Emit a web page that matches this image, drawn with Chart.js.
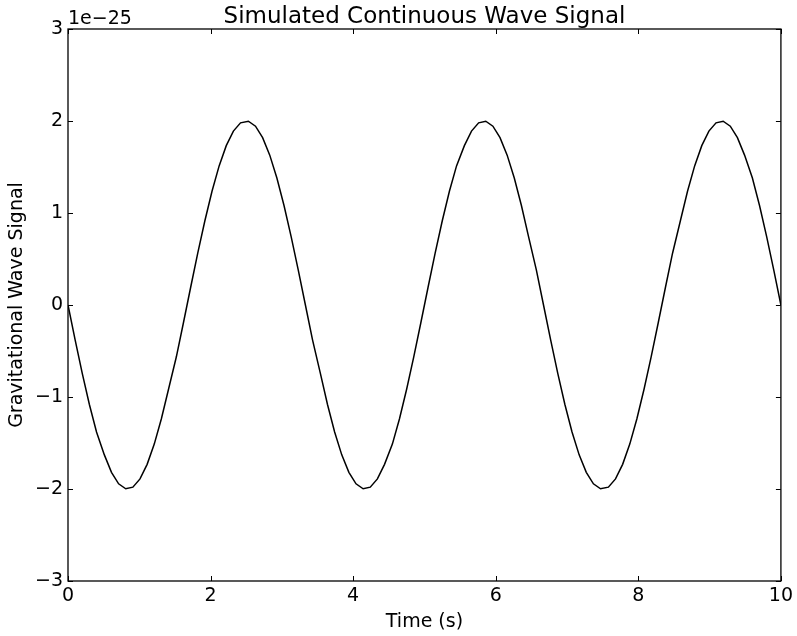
<!DOCTYPE html>
<html>
<head>
<meta charset="utf-8">
<script src="https://cdn.jsdelivr.net/npm/chart.js@4"></script>
<style>
  body { margin: 0; background: #fff; }
  #wrap { width: 797px; height: 636px; }
</style>
</head>
<body>
<div id="wrap"><canvas id="chartContainer" width="797" height="636"></canvas></div>
<script>
// time samples (s)
var times = [
  0.00, 0.10, 0.20, 0.30, 0.40, 0.51, 0.61, 0.71, 0.81, 0.91,
  1.01, 1.11, 1.21, 1.31, 1.41, 1.52, 1.62, 1.72, 1.82, 1.92,
  2.02, 2.12, 2.22, 2.32, 2.42, 2.53, 2.63, 2.73, 2.83, 2.93,
  3.03, 3.13, 3.23, 3.33, 3.43, 3.54, 3.64, 3.74, 3.84, 3.94,
  4.04, 4.14, 4.24, 4.34, 4.44, 4.55, 4.65, 4.75, 4.85, 4.95,
  5.05, 5.15, 5.25, 5.35, 5.45, 5.56, 5.66, 5.76, 5.86, 5.96,
  6.06, 6.16, 6.26, 6.36, 6.46, 6.57, 6.67, 6.77, 6.87, 6.97,
  7.07, 7.17, 7.27, 7.37, 7.47, 7.58, 7.68, 7.78, 7.88, 7.98,
  8.08, 8.18, 8.28, 8.38, 8.48, 8.59, 8.69, 8.79, 8.89, 8.99,
  9.09, 9.19, 9.29, 9.39, 9.49, 9.60, 9.70, 9.80, 9.90, 10.00
];
// signal, in units of 1e-25
var signal = [
  0.000, -0.379, -0.743, -1.081, -1.380, -1.629, -1.819, -1.944, -1.998, -1.980,
  -1.890, -1.732, -1.512, -1.236, -0.916, -0.563, -0.190, 0.190, 0.563, 0.916,
  1.236, 1.512, 1.732, 1.890, 1.980, 1.998, 1.944, 1.819, 1.629, 1.380,
  1.081, 0.743, 0.379, 0.000, -0.379, -0.743, -1.081, -1.380, -1.629, -1.819,
  -1.944, -1.998, -1.980, -1.890, -1.732, -1.512, -1.236, -0.916, -0.563, -0.190,
  0.190, 0.563, 0.916, 1.236, 1.512, 1.732, 1.890, 1.980, 1.998, 1.944,
  1.819, 1.629, 1.380, 1.081, 0.743, 0.379, 0.000, -0.379, -0.743, -1.081,
  -1.380, -1.629, -1.819, -1.944, -1.998, -1.980, -1.890, -1.732, -1.512, -1.236,
  -0.916, -0.563, -0.190, 0.190, 0.563, 0.916, 1.236, 1.512, 1.732, 1.890,
  1.980, 1.998, 1.944, 1.819, 1.629, 1.380, 1.081, 0.743, 0.379, 0.000
];
var xTicks = [0, 2, 4, 6, 8, 10];
var yTicks = [-3, -2, -1, 0, 1, 2, 3];
var titleText = 'Simulated Continuous Wave Signal';
var offsetText = '1e\u221225';

var font = 'DejaVu Sans';

var points = times.map(function (t, i) { return { x: t, y: signal[i] }; });

// matplotlib-style frame: inward ticks on all four sides, title over the axes, offset label
var framePlugin = {
  id: 'frame',
  afterDraw: function (chart) {
    var ctx = chart.ctx, a = chart.chartArea;
    var xs = chart.scales.x, ys = chart.scales.y;
    var len = 5;
    ctx.save();
    ctx.strokeStyle = '#000';
    ctx.lineWidth = 1;
    ctx.beginPath();
    xTicks.forEach(function (v) {
      var px = Math.round(xs.getPixelForValue(v)) + 0.5;
      ctx.moveTo(px, a.bottom); ctx.lineTo(px, a.bottom - len);
      ctx.moveTo(px, a.top); ctx.lineTo(px, a.top + len);
    });
    yTicks.forEach(function (v) {
      var py = Math.round(ys.getPixelForValue(v)) + 0.5;
      ctx.moveTo(a.left, py); ctx.lineTo(a.left + len, py);
      ctx.moveTo(a.right, py); ctx.lineTo(a.right - len, py);
    });
    ctx.stroke();
    ctx.lineWidth = 1.3;
    ctx.strokeRect(a.left, a.top, a.right - a.left, a.bottom - a.top);
    ctx.fillStyle = '#000';
    ctx.textBaseline = 'alphabetic';
    ctx.font = '23px "' + font + '"';
    ctx.textAlign = 'center';
    ctx.fillText(titleText, (a.left + a.right) / 2, 23);
    ctx.font = '19px "' + font + '"';
    ctx.textAlign = 'left';
    ctx.fillText(offsetText, a.left, a.top - 5);
    ctx.restore();
  }
};

var ctx = document.getElementById('chartContainer').getContext('2d');
new Chart(ctx, {
  type: 'line',
  data: {
    datasets: [{
      data: points,
      borderColor: '#000',
      borderWidth: 1.5,
      pointRadius: 0,
      tension: 0,
      fill: false
    }]
  },
  options: {
    responsive: false,
    animation: false,
    layout: { padding: { top: 29, right: 15, left: 0, bottom: 0 } },
    plugins: {
      legend: { display: false },
      tooltip: { enabled: false },
      title: { display: false }
    },
    scales: {
      x: {
        type: 'linear',
        min: 0, max: 10,
        afterFit: function (s) { s.height = 55; },
        afterBuildTicks: function (s) { s.ticks = xTicks.map(function (v) { return { value: v }; }); },
        grid: { display: false, drawTicks: false },
        border: { display: false },
        ticks: {
          color: '#000', padding: 4, maxRotation: 0,
          font: { family: font, size: 19 },
          callback: function (v) { return String(v).replace('-', '\u2212'); }
        },
        title: {
          display: true, text: 'Time (s)', color: '#000',
          font: { family: font, size: 19 },
          padding: { top: 0, bottom: 2.5 }
        }
      },
      y: {
        min: -3, max: 3,
        afterFit: function (s) { s.width = 68; },
        afterBuildTicks: function (s) { s.ticks = yTicks.map(function (v) { return { value: v }; }); },
        grid: { display: false, drawTicks: false },
        border: { display: false },
        ticks: {
          color: '#000', padding: 5,
          font: { family: font, size: 19 },
          callback: function (v) { return String(v).replace('-', '\u2212'); }
        },
        title: {
          display: true, text: 'Gravitational Wave Signal', color: '#000',
          font: { family: font, size: 19 },
          padding: { top: 5.5, bottom: 0 }
        }
      }
    }
  },
  plugins: [framePlugin]
});
</script>
</body>
</html>
